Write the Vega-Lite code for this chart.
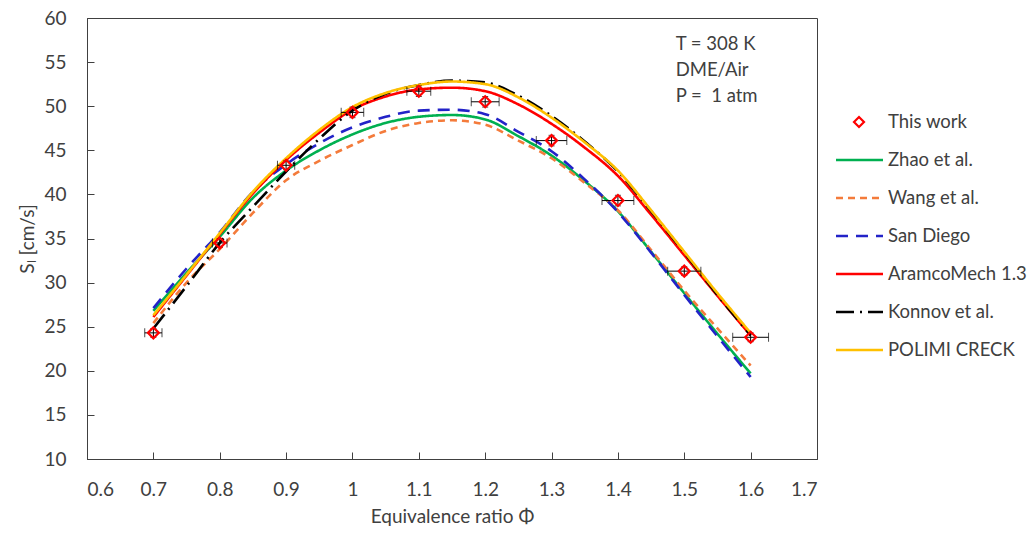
{
  "$schema": "https://vega.github.io/schema/vega-lite/v6.json",
  "width": 730,
  "height": 441,
  "autosize": {"type": "none"},
  "padding": {"left": 87, "top": 18, "right": 214, "bottom": 74},
  "background": "white",
  "config": {
    "view": {"stroke": "#404040", "strokeWidth": 1},
    "font": "Lato",
    "axis": {
      "grid": false,
      "domainColor": "#404040",
      "tickColor": "#404040",
      "labelColor": "#404040",
      "titleColor": "#404040",
      "labelFont": "Lato",
      "titleFont": "Lato",
      "labelFontSize": 19,
      "titleFontSize": 19,
      "titleFontWeight": "normal",
      "tickSize": -7,
      "labelPadding": 28
    }
  },
  "datasets": {
    "models": [
      {"series": "Zhao et al.", "phi": 0.7, "SL": 26.8}, {"series": "Zhao et al.", "phi": 0.75, "SL": 31.1}, {"series": "Zhao et al.", "phi": 0.8, "SL": 35.2}, {"series": "Zhao et al.", "phi": 0.85, "SL": 39.6}, {"series": "Zhao et al.", "phi": 0.9, "SL": 42.7}, {"series": "Zhao et al.", "phi": 0.95, "SL": 45.0}, {"series": "Zhao et al.", "phi": 1.0, "SL": 46.8}, {"series": "Zhao et al.", "phi": 1.05, "SL": 48.1}, {"series": "Zhao et al.", "phi": 1.1, "SL": 48.8}, {"series": "Zhao et al.", "phi": 1.15, "SL": 49.0}, {"series": "Zhao et al.", "phi": 1.2, "SL": 48.5}, {"series": "Zhao et al.", "phi": 1.25, "SL": 46.6}, {"series": "Zhao et al.", "phi": 1.3, "SL": 44.4}, {"series": "Zhao et al.", "phi": 1.35, "SL": 41.5}, {"series": "Zhao et al.", "phi": 1.4, "SL": 38.1}, {"series": "Zhao et al.", "phi": 1.45, "SL": 33.5}, {"series": "Zhao et al.", "phi": 1.5, "SL": 28.8}, {"series": "Zhao et al.", "phi": 1.55, "SL": 24.2}, {"series": "Zhao et al.", "phi": 1.6, "SL": 19.7},
      {"series": "Wang et al.", "phi": 0.7, "SL": 25.4}, {"series": "Wang et al.", "phi": 0.75, "SL": 30.0}, {"series": "Wang et al.", "phi": 0.8, "SL": 33.8}, {"series": "Wang et al.", "phi": 0.85, "SL": 37.9}, {"series": "Wang et al.", "phi": 0.9, "SL": 41.6}, {"series": "Wang et al.", "phi": 0.95, "SL": 43.8}, {"series": "Wang et al.", "phi": 1.0, "SL": 45.6}, {"series": "Wang et al.", "phi": 1.05, "SL": 47.2}, {"series": "Wang et al.", "phi": 1.1, "SL": 48.1}, {"series": "Wang et al.", "phi": 1.15, "SL": 48.4}, {"series": "Wang et al.", "phi": 1.2, "SL": 47.9}, {"series": "Wang et al.", "phi": 1.25, "SL": 46.1}, {"series": "Wang et al.", "phi": 1.3, "SL": 44.1}, {"series": "Wang et al.", "phi": 1.35, "SL": 41.3}, {"series": "Wang et al.", "phi": 1.4, "SL": 38.2}, {"series": "Wang et al.", "phi": 1.45, "SL": 33.7}, {"series": "Wang et al.", "phi": 1.5, "SL": 29.1}, {"series": "Wang et al.", "phi": 1.55, "SL": 24.8}, {"series": "Wang et al.", "phi": 1.6, "SL": 20.6},
      {"series": "San Diego", "phi": 0.7, "SL": 27.1}, {"series": "San Diego", "phi": 0.75, "SL": 31.6}, {"series": "San Diego", "phi": 0.8, "SL": 35.7}, {"series": "San Diego", "phi": 0.85, "SL": 40.3}, {"series": "San Diego", "phi": 0.9, "SL": 43.4}, {"series": "San Diego", "phi": 0.95, "SL": 45.8}, {"series": "San Diego", "phi": 1.0, "SL": 47.6}, {"series": "San Diego", "phi": 1.05, "SL": 48.8}, {"series": "San Diego", "phi": 1.1, "SL": 49.5}, {"series": "San Diego", "phi": 1.15, "SL": 49.6}, {"series": "San Diego", "phi": 1.2, "SL": 49.1}, {"series": "San Diego", "phi": 1.25, "SL": 47.1}, {"series": "San Diego", "phi": 1.3, "SL": 44.9}, {"series": "San Diego", "phi": 1.35, "SL": 41.7}, {"series": "San Diego", "phi": 1.4, "SL": 38.0}, {"series": "San Diego", "phi": 1.45, "SL": 33.4}, {"series": "San Diego", "phi": 1.5, "SL": 28.6}, {"series": "San Diego", "phi": 1.55, "SL": 23.9}, {"series": "San Diego", "phi": 1.6, "SL": 19.3},
      {"series": "AramcoMech 1.3", "phi": 0.7, "SL": 26.1}, {"series": "AramcoMech 1.3", "phi": 0.75, "SL": 30.8}, {"series": "AramcoMech 1.3", "phi": 0.8, "SL": 35.5}, {"series": "AramcoMech 1.3", "phi": 0.85, "SL": 40.1}, {"series": "AramcoMech 1.3", "phi": 0.9, "SL": 43.9}, {"series": "AramcoMech 1.3", "phi": 0.95, "SL": 47.0}, {"series": "AramcoMech 1.3", "phi": 1.0, "SL": 49.6}, {"series": "AramcoMech 1.3", "phi": 1.05, "SL": 51.1}, {"series": "AramcoMech 1.3", "phi": 1.1, "SL": 51.9}, {"series": "AramcoMech 1.3", "phi": 1.15, "SL": 52.1}, {"series": "AramcoMech 1.3", "phi": 1.2, "SL": 51.7}, {"series": "AramcoMech 1.3", "phi": 1.25, "SL": 50.2}, {"series": "AramcoMech 1.3", "phi": 1.3, "SL": 48.0}, {"series": "AramcoMech 1.3", "phi": 1.35, "SL": 45.3}, {"series": "AramcoMech 1.3", "phi": 1.4, "SL": 42.1}, {"series": "AramcoMech 1.3", "phi": 1.45, "SL": 37.7}, {"series": "AramcoMech 1.3", "phi": 1.5, "SL": 33.1}, {"series": "AramcoMech 1.3", "phi": 1.55, "SL": 28.5}, {"series": "AramcoMech 1.3", "phi": 1.6, "SL": 24.0},
      {"series": "Konnov et al.", "phi": 0.7, "SL": 24.8}, {"series": "Konnov et al.", "phi": 0.75, "SL": 29.6}, {"series": "Konnov et al.", "phi": 0.8, "SL": 34.5}, {"series": "Konnov et al.", "phi": 0.85, "SL": 38.6}, {"series": "Konnov et al.", "phi": 0.9, "SL": 42.6}, {"series": "Konnov et al.", "phi": 0.95, "SL": 46.3}, {"series": "Konnov et al.", "phi": 1.0, "SL": 49.5}, {"series": "Konnov et al.", "phi": 1.05, "SL": 51.4}, {"series": "Konnov et al.", "phi": 1.1, "SL": 52.4}, {"series": "Konnov et al.", "phi": 1.15, "SL": 52.9}, {"series": "Konnov et al.", "phi": 1.2, "SL": 52.7}, {"series": "Konnov et al.", "phi": 1.25, "SL": 51.2}, {"series": "Konnov et al.", "phi": 1.3, "SL": 48.9}, {"series": "Konnov et al.", "phi": 1.35, "SL": 46.0}, {"series": "Konnov et al.", "phi": 1.4, "SL": 42.6}, {"series": "Konnov et al.", "phi": 1.45, "SL": 38.1}, {"series": "Konnov et al.", "phi": 1.5, "SL": 33.4}, {"series": "Konnov et al.", "phi": 1.55, "SL": 28.6}, {"series": "Konnov et al.", "phi": 1.6, "SL": 24.0},
      {"series": "POLIMI CRECK", "phi": 0.7, "SL": 26.3}, {"series": "POLIMI CRECK", "phi": 0.75, "SL": 30.9}, {"series": "POLIMI CRECK", "phi": 0.8, "SL": 35.6}, {"series": "POLIMI CRECK", "phi": 0.85, "SL": 40.3}, {"series": "POLIMI CRECK", "phi": 0.9, "SL": 44.1}, {"series": "POLIMI CRECK", "phi": 0.95, "SL": 47.3}, {"series": "POLIMI CRECK", "phi": 1.0, "SL": 49.9}, {"series": "POLIMI CRECK", "phi": 1.05, "SL": 51.5}, {"series": "POLIMI CRECK", "phi": 1.1, "SL": 52.4}, {"series": "POLIMI CRECK", "phi": 1.15, "SL": 52.8}, {"series": "POLIMI CRECK", "phi": 1.2, "SL": 52.5}, {"series": "POLIMI CRECK", "phi": 1.25, "SL": 51.0}, {"series": "POLIMI CRECK", "phi": 1.3, "SL": 48.7}, {"series": "POLIMI CRECK", "phi": 1.35, "SL": 45.9}, {"series": "POLIMI CRECK", "phi": 1.4, "SL": 42.7}, {"series": "POLIMI CRECK", "phi": 1.45, "SL": 38.2}, {"series": "POLIMI CRECK", "phi": 1.5, "SL": 33.5}, {"series": "POLIMI CRECK", "phi": 1.55, "SL": 28.8}, {"series": "POLIMI CRECK", "phi": 1.6, "SL": 24.3}
    ],
    "exp": [
      {"phi": 0.7, "SL": 24.3, "phiLo": 0.687, "phiHi": 0.713, "slLo": 23.8, "slHi": 24.8},
      {"phi": 0.8, "SL": 34.5, "phiLo": 0.789, "phiHi": 0.811, "slLo": 34.0, "slHi": 35.0},
      {"phi": 0.9, "SL": 43.3, "phiLo": 0.887, "phiHi": 0.913, "slLo": 42.8, "slHi": 43.8},
      {"phi": 1.0, "SL": 49.3, "phiLo": 0.983, "phiHi": 1.017, "slLo": 48.7, "slHi": 49.9},
      {"phi": 1.1, "SL": 51.7, "phiLo": 1.082, "phiHi": 1.118, "slLo": 51.1, "slHi": 52.3},
      {"phi": 1.2, "SL": 50.5, "phiLo": 1.179, "phiHi": 1.221, "slLo": 49.9, "slHi": 51.1},
      {"phi": 1.3, "SL": 46.1, "phiLo": 1.277, "phiHi": 1.323, "slLo": 45.5, "slHi": 46.7},
      {"phi": 1.4, "SL": 39.3, "phiLo": 1.376, "phiHi": 1.424, "slLo": 38.7, "slHi": 39.9},
      {"phi": 1.5, "SL": 31.3, "phiLo": 1.475, "phiHi": 1.525, "slLo": 30.8, "slHi": 31.8},
      {"phi": 1.6, "SL": 23.8, "phiLo": 1.573, "phiHi": 1.627, "slLo": 23.3, "slHi": 24.3}
    ],
    "legend": [
      {"series": "This work"},
      {"series": "Zhao et al."},
      {"series": "Wang et al."},
      {"series": "San Diego"},
      {"series": "AramcoMech 1.3"},
      {"series": "Konnov et al."},
      {"series": "POLIMI CRECK"}
    ]
  },
  "layer": [
    {
      "layer": [
        {
          "data": {"name": "models"},
          "mark": {"type": "line", "strokeWidth": 2.6, "interpolate": "monotone"},
          "encoding": {
            "x": {
              "field": "phi", "type": "quantitative",
              "scale": {"domain": [0.6, 1.7], "nice": false, "zero": false},
              "axis": {"values": [0.6, 0.7, 0.8, 0.9, 1.0, 1.1, 1.2, 1.3, 1.4, 1.5, 1.6, 1.7], "format": "~g", "title": "Equivalence ratio Φ", "titlePadding": 8}
            },
            "y": {
              "field": "SL", "type": "quantitative",
              "scale": {"domain": [10, 60], "nice": false, "zero": false},
              "axis": {"values": [10, 15, 20, 25, 30, 35, 40, 45, 50, 55, 60], "title": "Sₗ [cm/s]", "titlePadding": 6}
            },
            "color": {
              "field": "series", "type": "nominal", "legend": null,
              "scale": {
                "domain": ["This work", "Zhao et al.", "Wang et al.", "San Diego", "AramcoMech 1.3", "Konnov et al.", "POLIMI CRECK"],
                "range": ["#FF0000", "#00B050", "#F47B3B", "#2323C8", "#FF0000", "#000000", "#FFC000"]
              }
            },
            "strokeDash": {
              "field": "series", "type": "nominal", "legend": null,
              "scale": {
                "domain": ["Zhao et al.", "Wang et al.", "San Diego", "AramcoMech 1.3", "Konnov et al.", "POLIMI CRECK"],
                "range": [[1, 0], [7, 5], [12, 8], [1, 0], [18, 6, 2, 6], [1, 0]]
              }
            }
          }
        },
        {
          "data": {"name": "exp"},
          "mark": {"type": "rule", "color": "#000000", "strokeWidth": 1},
          "encoding": {
            "x": {"field": "phiLo", "type": "quantitative"},
            "x2": {"field": "phiHi"},
            "y": {"field": "SL", "type": "quantitative"}
          }
        },
        {
          "data": {"name": "exp"},
          "mark": {"type": "rule", "color": "#000000", "strokeWidth": 1},
          "encoding": {
            "x": {"field": "phi", "type": "quantitative"},
            "y": {"field": "slLo", "type": "quantitative"},
            "y2": {"field": "slHi"}
          }
        },
        {
          "data": {"name": "exp"},
          "mark": {"type": "tick", "orient": "vertical", "color": "#000000", "size": 9, "thickness": 1},
          "encoding": {
            "x": {"field": "phiLo", "type": "quantitative"},
            "y": {"field": "SL", "type": "quantitative"}
          }
        },
        {
          "data": {"name": "exp"},
          "mark": {"type": "tick", "orient": "vertical", "color": "#000000", "size": 9, "thickness": 1},
          "encoding": {
            "x": {"field": "phiHi", "type": "quantitative"},
            "y": {"field": "SL", "type": "quantitative"}
          }
        },
        {
          "data": {"name": "exp"},
          "mark": {"type": "tick", "orient": "horizontal", "color": "#000000", "size": 6, "thickness": 1},
          "encoding": {
            "x": {"field": "phi", "type": "quantitative"},
            "y": {"field": "slLo", "type": "quantitative"}
          }
        },
        {
          "data": {"name": "exp"},
          "mark": {"type": "tick", "orient": "horizontal", "color": "#000000", "size": 6, "thickness": 1},
          "encoding": {
            "x": {"field": "phi", "type": "quantitative"},
            "y": {"field": "slHi", "type": "quantitative"}
          }
        },
        {
          "data": {"name": "exp"},
          "mark": {"type": "point", "shape": "diamond", "filled": false, "size": 120, "strokeWidth": 2.2, "color": "#FF0000", "opacity": 1},
          "encoding": {
            "x": {"field": "phi", "type": "quantitative"},
            "y": {"field": "SL", "type": "quantitative"}
          }
        },
        {
          "data": {"values": [{}]},
          "mark": {"type": "text", "align": "left", "baseline": "middle", "fontSize": 18.5, "lineHeight": 26, "color": "#404040", "font": "Lato"},
          "encoding": {
            "x": {"datum": 1.487},
            "y": {"datum": 57.0},
            "text": {"value": ["T = 308 K", "DME/Air", "P = \u00a01 atm"]}
          }
        }
      ]
    },
    {
      "data": {"name": "legend"},
      "layer": [
        {
          "transform": [{"filter": "datum.series !== 'This work'"}],
          "mark": {"type": "rule", "strokeWidth": 2.6},
          "encoding": {
            "x": {"value": 749},
            "x2": {"value": 796},
            "y": {
              "field": "series", "type": "nominal", "axis": null,
              "scale": {"type": "point", "padding": 0, "range": [104, 332],
                "domain": ["This work", "Zhao et al.", "Wang et al.", "San Diego", "AramcoMech 1.3", "Konnov et al.", "POLIMI CRECK"]}
            },
            "color": {"field": "series", "type": "nominal", "legend": null},
            "strokeDash": {"field": "series", "type": "nominal", "legend": null}
          }
        },
        {
          "transform": [{"filter": "datum.series === 'This work'"}],
          "mark": {"type": "point", "shape": "diamond", "filled": false, "size": 100, "strokeWidth": 2.2, "color": "#FF0000", "opacity": 1},
          "encoding": {
            "x": {"value": 772},
            "y": {"field": "series", "type": "nominal"}
          }
        },
        {
          "mark": {"type": "text", "align": "left", "baseline": "middle", "fontSize": 18.5, "color": "#404040", "font": "Lato"},
          "encoding": {
            "x": {"value": 801},
            "y": {"field": "series", "type": "nominal"},
            "text": {"field": "series"}
          }
        }
      ]
    }
  ],
  "resolve": {"scale": {"y": "independent"}}
}
